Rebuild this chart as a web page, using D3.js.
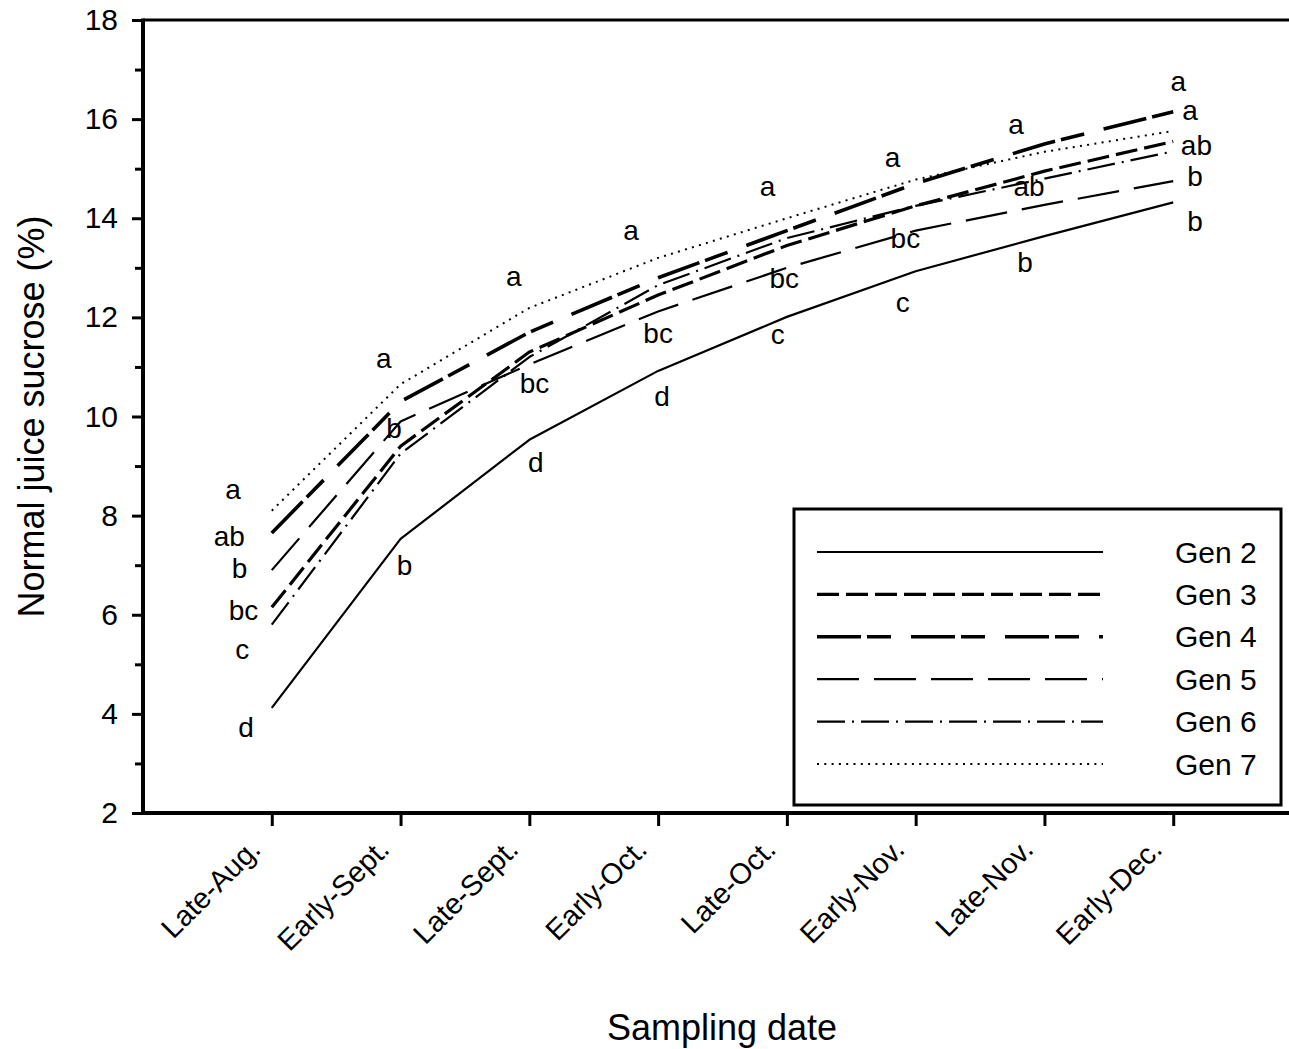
<!DOCTYPE html>
<html>
<head>
<meta charset="utf-8">
<script src="https://cdn.jsdelivr.net/npm/d3@7"></script>
<style>
  html, body { margin: 0; padding: 0; background: #fff; }
  svg { display: block; }
  text { font-family: "Liberation Sans", Arial, sans-serif; fill: #000; }
</style>
</head>
<body>
<svg id="chart" width="1289" height="1049"></svg>
<script>
// ---------- data ----------
const categories = ["Late-Aug.", "Early-Sept.", "Late-Sept.", "Early-Oct.", "Late-Oct.", "Early-Nov.", "Late-Nov.", "Early-Dec."];
const seriesNames = ["Gen 2", "Gen 3", "Gen 4", "Gen 5", "Gen 6", "Gen 7"];
const gen2 = [4.12, 7.53, 9.53, 10.92, 12.01, 12.93, 13.64, 14.32];
const gen3 = [6.15, 9.40, 11.30, 12.45, 13.45, 14.25, 14.95, 15.55];
const gen4 = [7.65, 10.30, 11.70, 12.80, 13.75, 14.70, 15.50, 16.15];
const gen5 = [6.90, 9.90, 11.05, 12.12, 13.00, 13.75, 14.27, 14.75];
const gen6 = [5.80, 9.25, 11.20, 12.65, 13.60, 14.25, 14.80, 15.35];
const gen7 = [8.10, 10.65, 12.19, 13.20, 14.00, 14.78, 15.34, 15.76];
const yTicks = [2, 4, 6, 8, 10, 12, 14, 16, 18];
const yMinorTicks = [3, 5, 7, 9, 11, 13, 15, 17];
// significance letters per sampling date: [letter, value at which drawn]
const letterGroups = [
  [["a", 8.54], ["ab", 7.59], ["b", 6.94], ["bc", 6.10], ["c", 5.31], ["d", 3.74]],
  [["a", 11.18], ["b", 9.77], ["b", 7.00]],
  [["a", 12.84], ["bc", 10.68], ["d", 9.08]],
  [["a", 13.76], ["bc", 11.69], ["d", 10.41]],
  [["a", 14.65], ["bc", 12.80], ["c", 11.66]],
  [["a", 15.24], ["bc", 13.60], ["c", 12.31]],
  [["a", 15.90], ["ab", 14.65], ["b", 13.12]],
  [["a", 16.77], ["a", 16.19], ["ab", 15.47], ["b", 14.84], ["b", 13.95]]
];
// horizontal shift of each letter group, in category steps
const letterShift = [
  [-0.30, -0.33, -0.25, -0.22, -0.23, -0.20],
  [-0.13, -0.05, 0.03],
  [-0.12, 0.04, 0.05],
  [-0.21, 0.0, 0.03],
  [-0.15, -0.02, -0.07],
  [-0.18, -0.08, -0.10],
  [-0.22, -0.12, -0.15],
  [0.04, 0.13, 0.18, 0.17, 0.17]
];

// ---------- styles ----------
const series = [gen2, gen3, gen4, gen5, gen6, gen7];
const styles = [
  { w: 2.2, dash: null },
  { w: 3.2, dash: "22,7" },
  { w: 3.6, dash: "44,6,24,20" },
  { w: 2.2, dash: "42,15" },
  { w: 2.2, dash: "28,7,2,7" },
  { w: 2.0, dash: "2,5.3" }
];

const svg = d3.select("#chart");
const mLeft = 143, mRight = 1302, mTop = 20, mBottom = 813;

const x = d3.scalePoint().domain(categories).range([mLeft, mRight]).padding(1);
const y = d3.scaleLinear().domain([2, 18]).range([mBottom, mTop]);

// frame (top and right sides)
svg.append("path")
  .attr("d", `M${mLeft},${mTop}H${mRight}V${mBottom}`)
  .attr("fill", "none").attr("stroke", "#000").attr("stroke-width", 3);

// lines
const line = d3.line().x((d, i) => x(categories[i])).y(d => y(d));
series.forEach((s, k) => {
  svg.append("path")
    .datum(s)
    .attr("d", line)
    .attr("fill", "none")
    .attr("stroke", "#000")
    .attr("stroke-width", styles[k].w)
    .attr("stroke-linejoin", "round")
    .attr("stroke-dasharray", styles[k].dash);
});

// y axis
const yAxis = svg.append("g").attr("transform", `translate(${mLeft},0)`)
  .call(d3.axisLeft(y).tickValues(yTicks).tickSize(11).tickPadding(14).tickFormat(d3.format("d")));
yAxis.select(".domain").remove();
yAxis.selectAll(".tick line").attr("stroke", "#000").attr("stroke-width", 3);
yAxis.selectAll(".tick text").attr("font-size", 30).attr("font-family", "Liberation Sans, Arial, sans-serif").attr("fill", "#000");
const yMinor = svg.append("g").attr("transform", `translate(${mLeft},0)`)
  .call(d3.axisLeft(y).tickValues(yMinorTicks).tickSize(8).tickFormat(""));
yMinor.select(".domain").remove();
yMinor.selectAll(".tick line").attr("stroke", "#000").attr("stroke-width", 3);
svg.append("line").attr("x1", mLeft).attr("x2", mLeft).attr("y1", mTop - 1.5).attr("y2", mBottom + 2)
  .attr("stroke", "#000").attr("stroke-width", 4);

// x axis
const xAxis = svg.append("g").attr("transform", `translate(0,${mBottom})`)
  .call(d3.axisBottom(x).tickSize(13).tickPadding(0));
xAxis.select(".domain").remove();
xAxis.selectAll(".tick line").attr("stroke", "#000").attr("stroke-width", 3);
xAxis.selectAll(".tick text")
  .attr("font-size", 29).attr("font-family", "Liberation Sans, Arial, sans-serif").attr("fill", "#000")
  .attr("text-anchor", "end")
  .attr("dy", null).attr("y", null)
  .attr("transform", "translate(-10,38) rotate(-45)");
svg.append("line").attr("x1", mLeft - 2).attr("x2", mRight).attr("y1", mBottom).attr("y2", mBottom)
  .attr("stroke", "#000").attr("stroke-width", 4);

// significance letters
const step = x.step();
letterGroups.forEach((grp, i) => {
  grp.forEach((l, j) => {
    svg.append("text")
      .attr("x", x(categories[i]) + letterShift[i][j] * step)
      .attr("y", y(l[1]))
      .attr("dy", "0.35em")
      .attr("text-anchor", "middle")
      .attr("font-size", 28)
      .text(l[0]);
  });
});

// axis titles
svg.append("text")
  .attr("transform", `translate(44,${(mTop + mBottom) / 2}) rotate(-90)`)
  .attr("text-anchor", "middle")
  .attr("font-size", 36)
  .text("Normal juice sucrose (%)");
svg.append("text")
  .attr("x", 722).attr("y", 1040)
  .attr("text-anchor", "middle")
  .attr("font-size", 36)
  .text("Sampling date");

// legend
const lg = svg.append("g");
lg.append("rect").attr("x", 794).attr("y", 509).attr("width", 487).attr("height", 296)
  .attr("fill", "#fff").attr("stroke", "#000").attr("stroke-width", 3);
const legendY = d3.scalePoint().domain(seriesNames).range([552, 764]);
seriesNames.forEach((n, k) => {
  const yy = legendY(n);
  lg.append("line").attr("x1", 817).attr("x2", 1103).attr("y1", yy).attr("y2", yy)
    .attr("stroke", "#000").attr("stroke-width", styles[k].w).attr("stroke-dasharray", styles[k].dash);
  lg.append("text").attr("x", 1175).attr("y", yy).attr("dy", "0.35em")
    .attr("font-size", 30).text(n);
});
</script>
</body>
</html>
